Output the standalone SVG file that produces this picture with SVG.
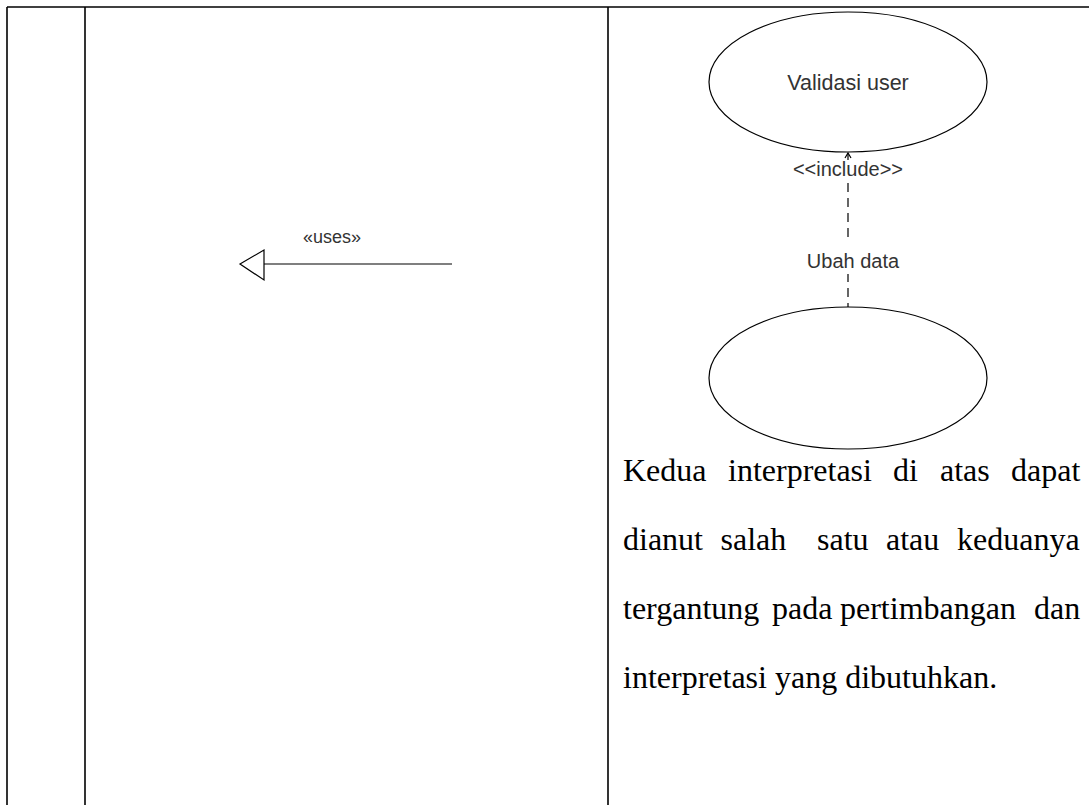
<svg xmlns="http://www.w3.org/2000/svg" width="1089" height="805" viewBox="0 0 1089 805">
<defs>
<style>
.frame{stroke:#000;stroke-width:1.6;fill:none}
.uc{fill:#fff;stroke:#000;stroke-width:1.2}
.lbl{font-family:"Liberation Sans",Arial,sans-serif;font-size:20px;fill:#333;text-anchor:middle}
.body{font-family:"Liberation Serif","Times New Roman",serif;font-size:32px;fill:#000}
.conn{stroke:#000;stroke-width:1.2;fill:none}
</style>
</defs>
<rect width="1089" height="805" fill="#fff"/>
<g id="table">
<line class="frame" x1="7" y1="7" x2="1089" y2="7"/>
<line class="frame" x1="7" y1="7" x2="7" y2="805"/>
<line class="frame" x1="85" y1="7" x2="85" y2="805"/>
<line class="frame" x1="608" y1="7" x2="608" y2="805"/>
</g>
<g id="connectors">
<line class="conn" x1="264" y1="264" x2="452" y2="264"/>
<polygon class="conn" points="240,264 264,250 264,280"/>
<text class="lbl" x="332" y="243" style="font-size:18px">«uses»</text>
<line class="conn" x1="848" y1="153" x2="848" y2="307" stroke-dasharray="9 6"/>
<polyline class="conn" points="845,158 848,153 851,158"/>
<rect x="790" y="160" width="116" height="18" fill="#fff"/>
<text class="lbl" x="848" y="176">&lt;&lt;include&gt;&gt;</text>
<rect x="800" y="242" width="106" height="32" fill="#fff"/>
<text class="lbl" x="853" y="268">Ubah data</text>
</g>
<g id="validasi">
<ellipse class="uc" cx="848" cy="82" rx="139" ry="70"/>
<text class="lbl" x="848" y="90" style="font-size:21.5px">Validasi user</text>
</g>
<g id="ubah">
<ellipse class="uc" cx="848" cy="378" rx="139" ry="71"/>
</g>
<g id="paragraph" class="body">
<text y="481"><tspan x="623">Kedua</tspan><tspan x="728">interpretasi</tspan><tspan x="893">di</tspan><tspan x="940">atas</tspan><tspan x="1011">dapat</tspan></text>
<text y="550"><tspan x="623">dianut</tspan><tspan x="720.5">salah</tspan><tspan x="817">satu</tspan><tspan x="886">atau</tspan><tspan x="957">keduanya</tspan></text>
<text y="619"><tspan x="623">tergantung</tspan><tspan x="772">pada</tspan><tspan x="840">pertimbangan</tspan><tspan x="1034">dan</tspan></text>
<text x="623" y="688">interpretasi yang dibutuhkan.</text>
</g>
</svg>
